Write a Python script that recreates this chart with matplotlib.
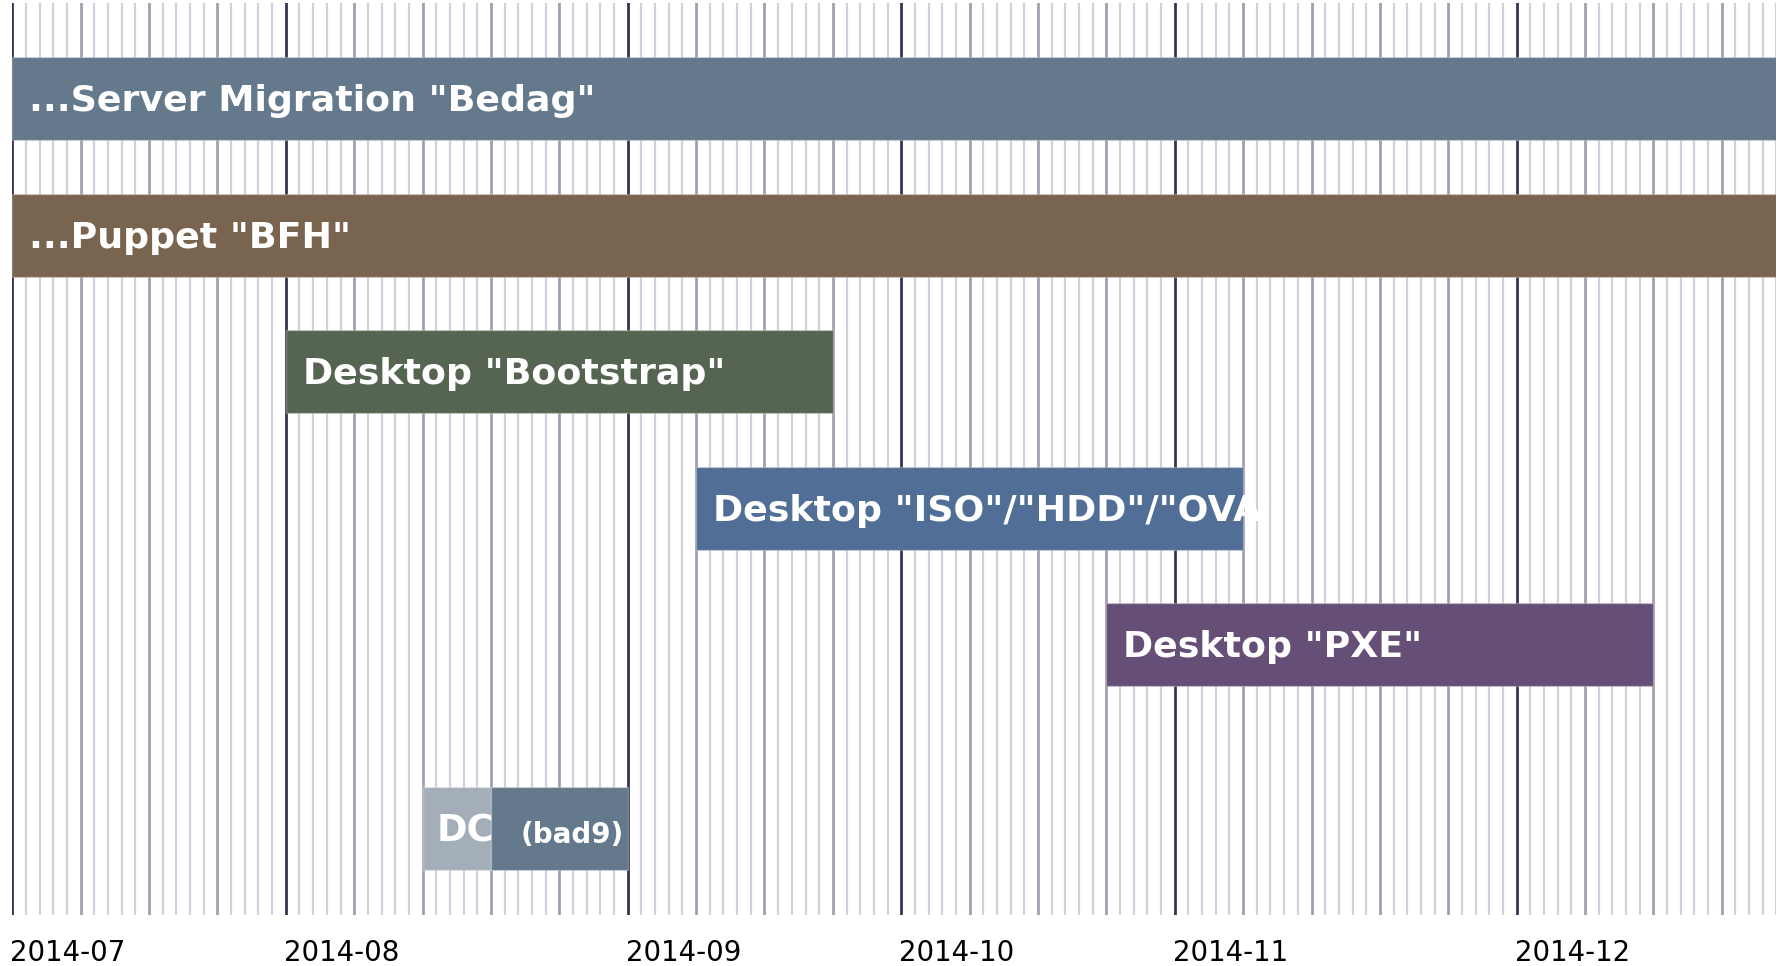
import datetime as dt
import matplotlib.pyplot as plt
import matplotlib.transforms as mtransforms
import numpy as np

# timeline runs on working days only (weekends skipped)
day0 = '2014-06-30'
day_end = '2014-12-26'

tasks = ['...Server Migration "Bedag"', '...Puppet "BFH"', 'Desktop "Bootstrap"',
         'Desktop "ISO"/"HDD"/"OVA"', 'Desktop "PXE"']
starts = ['2014-06-30', '2014-06-30', '2014-07-28', '2014-09-08', '2014-10-20']
ends = ['2014-12-31', '2014-12-31', '2014-09-22', '2014-11-03', '2014-12-15']
colors = ['#64798b', '#79654f', '#566552', '#516e96', '#654f77']

# DC task: done part + remaining part
dc_label = 'DC'
dc_sub = '(bad9)'
dc_dates = ['2014-08-11', '2014-08-18', '2014-09-01']
dc_colors = ['#a3aeb9', '#64798b']

month_starts = ['2014-07-01', '2014-08-01', '2014-09-01', '2014-10-01', '2014-11-01', '2014-12-01']


def bday(d):
    return int(np.busday_count(day0, d))


def week_of(d):
    d = dt.date.fromisoformat(d)
    return (d - dt.timedelta(days=d.weekday())).isoformat()


fig = plt.figure(figsize=(17.83, 9.66), dpi=100)
ax = fig.add_axes([12.3/1783, 1-915/966, (1776.5-12.3)/1783, 912/966])
xmax = bday(day_end)
ax.set_xlim(0, xmax)
ax.set_ylim(5.98, -0.70)

# grid: days, weeks, months
month_x = [bday(week_of(m)) for m in month_starts]
for i in range(xmax + 1):
    if i in month_x:
        ax.axvline(i, color='#3e2f52', lw=2.0, zorder=1)
    elif i % 5 == 0:
        ax.axvline(i, color='#a79db0', lw=2.0, zorder=1)
    else:
        ax.axvline(i, color='#d4cfdb', lw=1.6, zorder=1)

rows = list(range(len(tasks)))
h = 0.608
px = ax.transData.transform((1, 0))[0] - ax.transData.transform((0, 0))[0]
ty = 0.018  # text baseline nudge

for r, name, s, e, c in zip(rows, tasks, starts, ends, colors):
    x0, x1 = bday(s), bday(e)
    ax.barh(r, x1 - x0, left=x0, height=h, color=c, edgecolor='#ffffff40', lw=1, zorder=3)
    t = ax.text(x0 + 17/px, r + ty, name, color='white', fontsize=26.2, fontweight='bold',
                va='center', ha='left', zorder=4)
    t.set_clip_path(plt.Rectangle((x0, r - h/2), min(x1, xmax) - x0 + 17/px, h,
                                  transform=ax.transData))

dc_row = 5.344
dx = [bday(d) for d in dc_dates]
for a, b, c in zip(dx[:-1], dx[1:], dc_colors):
    ax.barh(dc_row, b - a, left=a, height=h, color=c, edgecolor='#ffffff40', lw=1, zorder=3)
ax.text(dx[0] + 14/px, dc_row + ty, dc_label, color='white', fontsize=26.5, fontweight='bold',
        va='center', ha='left', zorder=4)
ax.text(dx[1] + 30/px, dc_row + ty + 0.03, dc_sub, color='white', fontsize=20, fontweight='bold',
        va='center', ha='left', zorder=4)

ax.set_xticks(month_x)
ax.set_xticklabels([m[:7] for m in month_starts], ha='left', fontsize=19.9)
ax.tick_params(axis='x', length=0, pad=17)
shift = mtransforms.ScaledTranslation(-2/100, 0, fig.dpi_scale_trans)
for lab in ax.get_xticklabels():
    lab.set_transform(lab.get_transform() + shift)
ax.set_yticks([])
for sp in ax.spines.values():
    sp.set_visible(False)

fig.savefig('out.png', dpi=100)
